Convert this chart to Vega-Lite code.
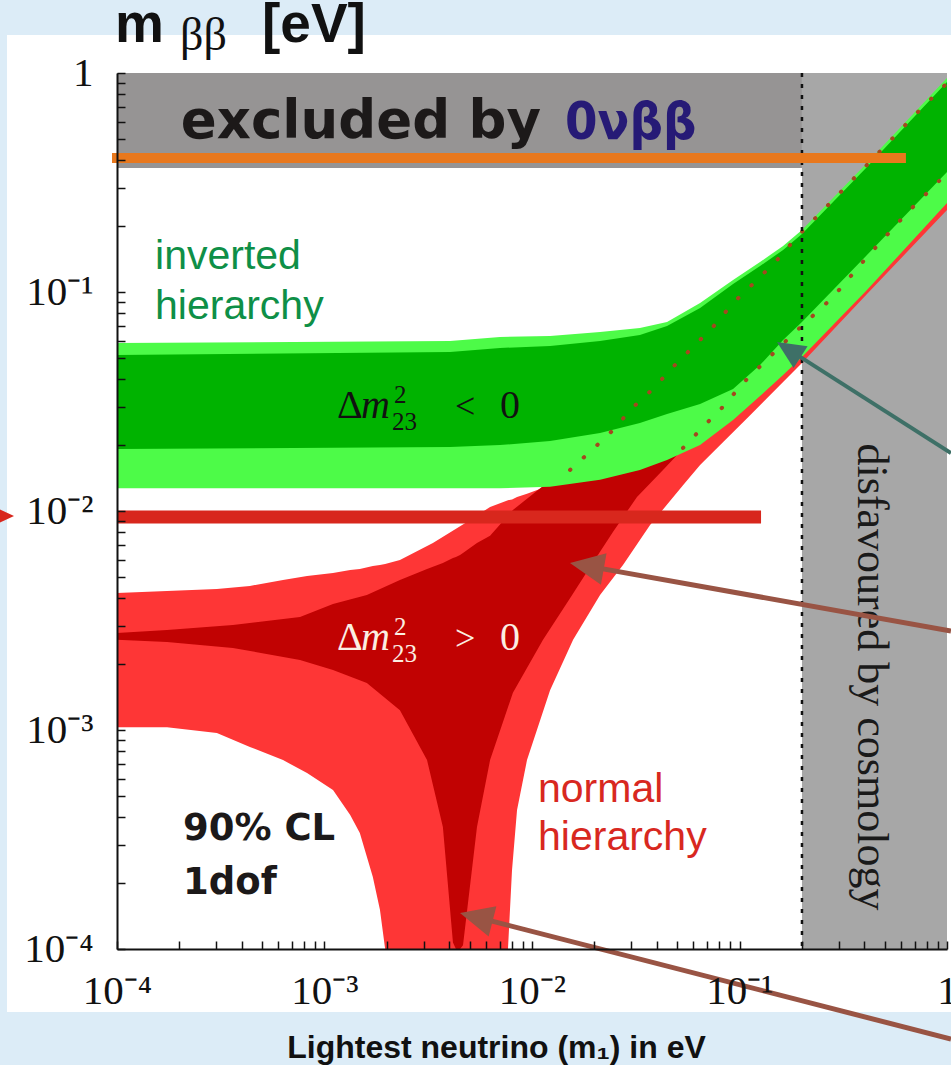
{
  "$schema": "https://vega.github.io/schema/vega-lite/v6.json",
  "width": 830,
  "height": 876,
  "autosize": {"type": "none"},
  "padding": {"left": 117, "top": 73, "right": 4, "bottom": 116},
  "background": "#dcecf7",
  "config": {"view": {"fill": "#ffffff", "stroke": "#1a1a1a", "strokeWidth": 1.5}},
  "datasets": {
    "regions": [
      {"name": "excluded", "m1a": 0.0001, "m1b": 0.2, "mbba": 0.368, "mbbb": 1},
      {"name": "cosmology", "m1a": 0.2, "m1b": 1, "mbba": 0.0001, "mbbb": 1}
    ],
    "bands": [
      {"band": "NH outer", "m1": 0.0001, "lo": 0.00103, "hi": 0.00422},
      {"band": "NH outer", "m1": 0.0001742, "lo": 0.00103, "hi": 0.00431},
      {"band": "NH outer", "m1": 0.000303, "lo": 0.000969, "hi": 0.0044},
      {"band": "NH outer", "m1": 0.000437, "lo": 0.000837, "hi": 0.00455},
      {"band": "NH outer", "m1": 0.000631, "lo": 0.000729, "hi": 0.00484},
      {"band": "NH outer", "m1": 0.000824, "lo": 0.000636, "hi": 0.00505},
      {"band": "NH outer", "m1": 0.001099, "lo": 0.000532, "hi": 0.00521},
      {"band": "NH outer", "m1": 0.00133, "lo": 0.000409, "hi": 0.00538},
      {"band": "NH outer", "m1": 0.00148, "lo": 0.000339, "hi": 0.00543},
      {"band": "NH outer", "m1": 0.00171, "lo": 0.000213, "hi": 0.00561},
      {"band": "NH outer", "m1": 0.00185, "lo": 0.000151, "hi": 0.00567},
      {"band": "NH outer", "m1": 0.00196, "lo": 0.0001, "hi": 0.00573},
      {"band": "NH outer", "m1": 0.00231, "lo": 0.0001, "hi": 0.00597},
      {"band": "NH outer", "m1": 0.00333, "lo": 0.0001, "hi": 0.00714},
      {"band": "NH outer", "m1": 0.00486, "lo": 0.0001, "hi": 0.00891},
      {"band": "NH outer", "m1": 0.00628, "lo": 0.0001, "hi": 0.01043},
      {"band": "NH outer", "m1": 0.00766, "lo": 0.0001, "hi": 0.0112},
      {"band": "NH outer", "m1": 0.00801, "lo": 0.000229, "hi": 0.0113},
      {"band": "NH outer", "m1": 0.00847, "lo": 0.000431, "hi": 0.0116},
      {"band": "NH outer", "m1": 0.00946, "lo": 0.000729, "hi": 0.012},
      {"band": "NH outer", "m1": 0.01222, "lo": 0.00152, "hi": 0.0131},
      {"band": "NH outer", "m1": 0.01578, "lo": 0.00258, "hi": 0.016},
      {"band": "NH outer", "m1": 0.02128, "lo": 0.00413, "hi": 0.0207},
      {"band": "NH outer", "m1": 0.02745, "lo": 0.00567, "hi": 0.026},
      {"band": "NH outer", "m1": 0.03707, "lo": 0.00863, "hi": 0.0353},
      {"band": "NH outer", "m1": 0.05343, "lo": 0.0131, "hi": 0.0505},
      {"band": "NH outer", "m1": 0.06457, "lo": 0.0162, "hi": 0.0604},
      {"band": "NH outer", "m1": 0.1125, "lo": 0.0274, "hi": 0.1054},
      {"band": "NH outer", "m1": 0.2, "lo": 0.0474, "hi": 0.1879},
      {"band": "NH outer", "m1": 0.4115, "lo": 0.0979, "hi": 0.3761},
      {"band": "NH outer", "m1": 1.0, "lo": 0.2368, "hi": 0.9097},
      {"band": "NH inner", "m1": 0.0001, "lo": 0.00258, "hi": 0.00277},
      {"band": "NH inner", "m1": 0.0001742, "lo": 0.00252, "hi": 0.00286},
      {"band": "NH inner", "m1": 0.000362, "lo": 0.00237, "hi": 0.00302},
      {"band": "NH inner", "m1": 0.000762, "lo": 0.00209, "hi": 0.00328},
      {"band": "NH inner", "m1": 0.001099, "lo": 0.00188, "hi": 0.00376},
      {"band": "NH inner", "m1": 0.0016, "lo": 0.00164, "hi": 0.00413},
      {"band": "NH inner", "m1": 0.00231, "lo": 0.00123, "hi": 0.00484},
      {"band": "NH inner", "m1": 0.00312, "lo": 0.000729, "hi": 0.00543},
      {"band": "NH inner", "m1": 0.00372, "lo": 0.000361, "hi": 0.00579},
      {"band": "NH inner", "m1": 0.00416, "lo": 0.000107, "hi": 0.0061},
      {"band": "NH inner", "m1": 0.0043, "lo": 0.0001, "hi": 0.00617},
      {"band": "NH inner", "m1": 0.0045, "lo": 0.0001, "hi": 0.0063},
      {"band": "NH inner", "m1": 0.00465, "lo": 0.000104, "hi": 0.00643},
      {"band": "NH inner", "m1": 0.00543, "lo": 0.000361, "hi": 0.00714},
      {"band": "NH inner", "m1": 0.00628, "lo": 0.000729, "hi": 0.0077},
      {"band": "NH inner", "m1": 0.00809, "lo": 0.00148, "hi": 0.01011},
      {"band": "NH inner", "m1": 0.0113, "lo": 0.00258, "hi": 0.013},
      {"band": "NH inner", "m1": 0.01525, "lo": 0.004, "hi": 0.0151},
      {"band": "NH inner", "m1": 0.01905, "lo": 0.00555, "hi": 0.0182},
      {"band": "NH inner", "m1": 0.02455, "lo": 0.00802, "hi": 0.0229},
      {"band": "NH inner", "m1": 0.03206, "lo": 0.0116, "hi": 0.0302},
      {"band": "NH inner", "m1": 0.04279, "lo": 0.0154, "hi": 0.0405},
      {"band": "NH inner", "m1": 0.05166, "lo": 0.0186, "hi": 0.0489},
      {"band": "NH inner", "m1": 0.06457, "lo": 0.0211, "hi": 0.0604},
      {"band": "NH inner", "m1": 0.1125, "lo": 0.0321, "hi": 0.1054},
      {"band": "NH inner", "m1": 0.2, "lo": 0.0532, "hi": 0.1879},
      {"band": "NH inner", "m1": 0.4115, "lo": 0.1134, "hi": 0.3761},
      {"band": "NH inner", "m1": 1.0, "lo": 0.2687, "hi": 0.891},
      {"band": "IH outer", "m1": 0.0001, "lo": 0.0127, "hi": 0.0585},
      {"band": "IH outer", "m1": 0.00403, "lo": 0.0127, "hi": 0.0597},
      {"band": "IH outer", "m1": 0.00701, "lo": 0.0127, "hi": 0.0623},
      {"band": "IH outer", "m1": 0.01222, "lo": 0.0129, "hi": 0.063},
      {"band": "IH outer", "m1": 0.02128, "lo": 0.0139, "hi": 0.0657},
      {"band": "IH outer", "m1": 0.03311, "lo": 0.0154, "hi": 0.0685},
      {"band": "IH outer", "m1": 0.04475, "lo": 0.0171, "hi": 0.0729},
      {"band": "IH outer", "m1": 0.06457, "lo": 0.02, "hi": 0.0891},
      {"band": "IH outer", "m1": 0.09311, "lo": 0.026, "hi": 0.1134},
      {"band": "IH outer", "m1": 0.1256, "lo": 0.0335, "hi": 0.1371},
      {"band": "IH outer", "m1": 0.1622, "lo": 0.0418, "hi": 0.1622},
      {"band": "IH outer", "m1": 0.2, "lo": 0.0505, "hi": 0.1919},
      {"band": "IH outer", "m1": 0.4115, "lo": 0.1021, "hi": 0.388},
      {"band": "IH outer", "m1": 1.0, "lo": 0.2549, "hi": 0.949},
      {"band": "IH inner", "m1": 0.0001, "lo": 0.0192, "hi": 0.0516},
      {"band": "IH inner", "m1": 0.00403, "lo": 0.0196, "hi": 0.0532},
      {"band": "IH inner", "m1": 0.00701, "lo": 0.02, "hi": 0.0555},
      {"band": "IH inner", "m1": 0.01222, "lo": 0.0209, "hi": 0.0567},
      {"band": "IH inner", "m1": 0.02128, "lo": 0.0227, "hi": 0.0597},
      {"band": "IH inner", "m1": 0.03311, "lo": 0.0252, "hi": 0.0637},
      {"band": "IH inner", "m1": 0.04475, "lo": 0.0277, "hi": 0.0699},
      {"band": "IH inner", "m1": 0.06457, "lo": 0.0308, "hi": 0.0845},
      {"band": "IH inner", "m1": 0.09311, "lo": 0.0361, "hi": 0.1087},
      {"band": "IH inner", "m1": 0.1256, "lo": 0.0464, "hi": 0.1314},
      {"band": "IH inner", "m1": 0.1622, "lo": 0.0604, "hi": 0.1555},
      {"band": "IH inner", "m1": 0.2, "lo": 0.0729, "hi": 0.184},
      {"band": "IH inner", "m1": 0.4115, "lo": 0.1476, "hi": 0.3722},
      {"band": "IH inner", "m1": 1.0, "lo": 0.3532, "hi": 0.9097}
    ],
    "edges": [
      {"edge": "upper", "m1": 0.01525, "mbb": 0.0154},
      {"edge": "upper", "m1": 0.01946, "mbb": 0.019},
      {"edge": "upper", "m1": 0.02455, "mbb": 0.0234},
      {"edge": "upper", "m1": 0.03035, "mbb": 0.0295},
      {"edge": "upper", "m1": 0.03828, "mbb": 0.0361},
      {"edge": "upper", "m1": 0.04786, "mbb": 0.0455},
      {"edge": "upper", "m1": 0.05971, "mbb": 0.0561},
      {"edge": "upper", "m1": 0.07447, "mbb": 0.0692},
      {"edge": "upper", "m1": 0.09311, "mbb": 0.0891},
      {"edge": "upper", "m1": 0.1214, "mbb": 0.1134},
      {"edge": "upper", "m1": 0.1517, "mbb": 0.14},
      {"edge": "upper", "m1": 0.1892, "mbb": 0.1783},
      {"edge": "upper", "m1": 0.2825, "mbb": 0.263},
      {"edge": "upper", "m1": 0.7163, "mbb": 0.6568},
      {"edge": "upper", "m1": 1.0, "mbb": 0.9},
      {"edge": "lower", "m1": 0.05343, "mbb": 0.0194},
      {"edge": "lower", "m1": 0.06668, "mbb": 0.0242},
      {"edge": "lower", "m1": 0.08318, "mbb": 0.0299},
      {"edge": "lower", "m1": 0.104, "mbb": 0.0384},
      {"edge": "lower", "m1": 0.175, "mbb": 0.0623},
      {"edge": "lower", "m1": 0.2825, "mbb": 0.0949},
      {"edge": "lower", "m1": 0.4115, "mbb": 0.1445},
      {"edge": "lower", "m1": 0.6412, "mbb": 0.2295},
      {"edge": "lower", "m1": 0.9568, "mbb": 0.335}
    ],
    "cuts": [{"m1": 0.2}],
    "bounds": [
      {"name": "current", "m1a": 0.0000946, "m1b": 0.634, "mbb": 0.409},
      {"name": "future", "m1a": 0.0001, "m1b": 0.127, "mbb": 0.00939}
    ],
    "notes": [
      {"key": "title_m", "text": "m", "m1": 0.0001, "mbb": 1.385},
      {"key": "title_bb", "text": "ββ", "m1": 0.0001, "mbb": 1.385},
      {"key": "title_ev", "text": "[eV]", "m1": 0.0001, "mbb": 1.385},
      {"key": "excluded", "text": "excluded by", "m1": 0.000203, "mbb": 0.505},
      {"key": "nu", "text": "0νββ", "m1": 0.01442, "mbb": 0.5},
      {"key": "ih", "text": "inverted\nhierarchy", "m1": 0.0001525, "mbb": 0.1273},
      {"key": "nh", "text": "normal\nhierarchy", "m1": 0.01069, "mbb": 0.000469},
      {"key": "cl", "text": "90% CL\n1dof", "m1": 0.000208, "mbb": 0.000315},
      {"key": "cosmo", "text": "disfavoured by cosmology", "m1": 0.43, "mbb": 0.001746}
    ],
    "deltas": [
      {"rel": "<", "m1": 0.001148, "mbb": 0.0266},
      {"rel": ">", "m1": 0.001148, "mbb": 0.00232}
    ],
    "arrows": [
      {"name": "ih_edge", "m1a": 1.045, "mbba": 0.0184, "m1b": 0.1743, "mbbb": 0.05428, "tipm1": 0.1516, "tipmbb": 0.05909},
      {"name": "nh_band", "m1a": 1.045, "mbba": 0.002832, "m1b": 0.01797, "mbbb": 0.005631, "tipm1": 0.01524, "tipmbb": 0.005788},
      {"name": "nh_cancel", "m1a": 1.045, "mbba": 0.0000388, "m1b": 0.005283, "mbbb": 0.0001405, "tipm1": 0.004498, "tipmbb": 0.0001461},
      {"name": "limit_tick", "tipm1": 0.0000319, "tipmbb": 0.00948}
    ]
  },
  "layer": [
    {
      "data": {"values": [{}]},
      "mark": {"type": "rect", "fill": "#ffffff"},
      "encoding": {
        "x": {"datum": 0.0000295, "type": "quantitative"},
        "x2": {"datum": 1.3},
        "y": {"datum": 0.0000515, "type": "quantitative"},
        "y2": {"datum": 1.49}
      }
    },
    {
      "data": {"name": "regions"},
      "mark": {"type": "rect"},
      "encoding": {
        "x": {
          "field": "m1a", "type": "quantitative",
          "scale": {"type": "log", "domain": [0.0001, 1], "nice": false},
          "axis": {
            "values": [0.0001,0.0002,0.0003,0.0004,0.0005,0.0006,0.0007,0.0008,0.0009,0.001,0.002,0.003,0.004,0.005,0.006,0.007,0.008,0.009,0.01,0.02,0.03,0.04,0.05,0.06,0.07,0.08,0.09,0.1,0.2,0.3,0.4,0.5,0.6,0.7,0.8,0.9,1],
            "labelExpr": "datum.value > 0.99 ? '1' : (abs(log(datum.value) / LN10 - round(log(datum.value) / LN10)) < 0.001 ? '10' + replace(replace(replace(replace(replace('' + round(log(datum.value) / LN10), '-', '⁻'), '1', '¹'), '2', '²'), '3', '³'), '4', '⁴') : '')",
            "labelFont": "Liberation Serif",
            "labelFontSize": 41,
            "labelColor": "#111111",
            "labelPadding": 30,
            "labelOverlap": false,
            "labelFlush": false,
            "labelBound": false,
            "tickSize": -8,
            "tickColor": "#111111",
            "tickWidth": 1.5,
            "domainColor": "#111111",
            "domainWidth": 2,
            "grid": false,
            "title": "Lightest neutrino (m₁) in eV",
            "titleFont": "Liberation Sans",
            "titleFontSize": 32,
            "titleFontWeight": "bold",
            "titleColor": "#111111",
            "titleX": 379,
            "titleY": 108,
            "titleAlign": "center",
            "titleBaseline": "alphabetic",
            "zindex": 1
          }
        },
        "x2": {"field": "m1b"},
        "y": {
          "field": "mbba", "type": "quantitative",
          "scale": {"type": "log", "domain": [0.0001, 1], "nice": false},
          "axis": {
            "values": [0.0001,0.0002,0.0003,0.0004,0.0005,0.0006,0.0007,0.0008,0.0009,0.001,0.002,0.003,0.004,0.005,0.006,0.007,0.008,0.009,0.01,0.02,0.03,0.04,0.05,0.06,0.07,0.08,0.09,0.1,0.2,0.3,0.4,0.5,0.6,0.7,0.8,0.9,1],
            "labelExpr": "datum.value > 0.99 ? '1' : (abs(log(datum.value) / LN10 - round(log(datum.value) / LN10)) < 0.001 ? '10' + replace(replace(replace(replace(replace('' + round(log(datum.value) / LN10), '-', '⁻'), '1', '¹'), '2', '²'), '3', '³'), '4', '⁴') : '')",
            "labelFont": "Liberation Serif",
            "labelFontSize": 41,
            "labelColor": "#111111",
            "labelPadding": 32,
            "labelOverlap": false,
            "labelFlush": false,
            "labelBound": false,
            "tickSize": -8,
            "tickColor": "#111111",
            "tickWidth": 1.5,
            "domainColor": "#111111",
            "domainWidth": 2,
            "grid": false,
            "title": null,
            "zindex": 1
          }
        },
        "y2": {"field": "mbbb"},
        "color": {"condition": {"test": "datum.name == 'cosmology'", "value": "#a7a7a7"}, "value": "#969494"}
      }
    },
    {
      "data": {"name": "bands"},
      "transform": [{"filter": "datum.band == 'NH outer'"}],
      "mark": {"type": "area", "color": "#fe3636", "orient": "vertical", "interpolate": "linear"},
      "encoding": {
        "x": {"field": "m1", "type": "quantitative"},
        "y": {"field": "lo", "type": "quantitative", "stack": null},
        "y2": {"field": "hi"}
      }
    },
    {
      "data": {"name": "bands"},
      "transform": [{"filter": "datum.band == 'NH inner'"}],
      "mark": {"type": "area", "color": "#c10202", "orient": "vertical", "interpolate": "linear"},
      "encoding": {
        "x": {"field": "m1", "type": "quantitative"},
        "y": {"field": "lo", "type": "quantitative", "stack": null},
        "y2": {"field": "hi"}
      }
    },
    {
      "data": {"name": "bands"},
      "transform": [{"filter": "datum.band == 'IH outer'"}],
      "mark": {"type": "area", "color": "#4dfb48", "orient": "vertical", "interpolate": "linear"},
      "encoding": {
        "x": {"field": "m1", "type": "quantitative"},
        "y": {"field": "lo", "type": "quantitative", "stack": null},
        "y2": {"field": "hi"}
      }
    },
    {
      "data": {"name": "bands"},
      "transform": [{"filter": "datum.band == 'IH inner'"}],
      "mark": {"type": "area", "color": "#00b300", "orient": "vertical", "interpolate": "linear"},
      "encoding": {
        "x": {"field": "m1", "type": "quantitative"},
        "y": {"field": "lo", "type": "quantitative", "stack": null},
        "y2": {"field": "hi"}
      }
    },
    {
      "data": {"name": "edges"},
      "mark": {"type": "line", "color": "#a3481f", "strokeWidth": 4, "strokeDash": [0.5, 18], "strokeCap": "round"},
      "encoding": {
        "x": {"field": "m1", "type": "quantitative"},
        "y": {"field": "mbb", "type": "quantitative"},
        "detail": {"field": "edge"}
      }
    },
    {
      "data": {"name": "cuts"},
      "mark": {"type": "rule", "color": "#111111", "strokeWidth": 2.5, "strokeDash": [4, 7]},
      "encoding": {"x": {"field": "m1", "type": "quantitative"}}
    },
    {
      "data": {"name": "bounds"},
      "mark": {"type": "rule", "strokeCap": "butt"},
      "encoding": {
        "x": {"field": "m1a", "type": "quantitative"},
        "x2": {"field": "m1b"},
        "y": {"field": "mbb", "type": "quantitative"},
        "color": {"condition": {"test": "datum.name == 'current'", "value": "#e8781d"}, "value": "#d8271d"},
        "strokeWidth": {"condition": {"test": "datum.name == 'current'", "value": 10}, "value": 13}
      }
    },
    {
      "data": {"name": "notes"},
      "transform": [{"filter": "datum.key == 'title_m'"}],
      "mark": {"type": "text", "font": "Liberation Sans", "fontWeight": "bold", "fontSize": 55, "color": "#111111", "align": "left", "baseline": "alphabetic", "dx": -2},
      "encoding": {"x": {"field": "m1", "type": "quantitative"}, "y": {"field": "mbb", "type": "quantitative"}, "text": {"field": "text"}}
    },
    {
      "data": {"name": "notes"},
      "transform": [{"filter": "datum.key == 'title_bb'"}],
      "mark": {"type": "text", "font": "Liberation Serif", "fontSize": 46, "color": "#111111", "align": "left", "baseline": "alphabetic", "dx": 63, "dy": 8},
      "encoding": {"x": {"field": "m1", "type": "quantitative"}, "y": {"field": "mbb", "type": "quantitative"}, "text": {"field": "text"}}
    },
    {
      "data": {"name": "notes"},
      "transform": [{"filter": "datum.key == 'title_ev'"}],
      "mark": {"type": "text", "font": "Liberation Sans", "fontWeight": "bold", "fontSize": 55, "color": "#111111", "align": "left", "baseline": "alphabetic", "dx": 145},
      "encoding": {"x": {"field": "m1", "type": "quantitative"}, "y": {"field": "mbb", "type": "quantitative"}, "text": {"field": "text"}}
    },
    {
      "data": {"name": "notes"},
      "transform": [{"filter": "datum.key == 'excluded'"}],
      "mark": {"type": "text", "font": "DejaVu Sans", "fontWeight": "bold", "fontSize": 53, "color": "#1c1919", "align": "left", "baseline": "alphabetic"},
      "encoding": {"x": {"field": "m1", "type": "quantitative"}, "y": {"field": "mbb", "type": "quantitative"}, "text": {"field": "text"}}
    },
    {
      "data": {"name": "notes"},
      "transform": [{"filter": "datum.key == 'nu'"}],
      "mark": {"type": "text", "font": "DejaVu Sans Condensed", "fontWeight": "bold", "fontSize": 52, "color": "#261a76", "align": "left", "baseline": "alphabetic"},
      "encoding": {"x": {"field": "m1", "type": "quantitative"}, "y": {"field": "mbb", "type": "quantitative"}, "text": {"field": "text"}}
    },
    {
      "data": {"name": "notes"},
      "transform": [{"filter": "datum.key == 'ih'"}],
      "mark": {"type": "text", "font": "Liberation Sans", "fontSize": 41, "color": "#0e8f47", "align": "left", "baseline": "alphabetic", "lineBreak": "\n", "lineHeight": 50},
      "encoding": {"x": {"field": "m1", "type": "quantitative"}, "y": {"field": "mbb", "type": "quantitative"}, "text": {"field": "text"}}
    },
    {
      "data": {"name": "notes"},
      "transform": [{"filter": "datum.key == 'nh'"}],
      "mark": {"type": "text", "font": "Liberation Sans", "fontSize": 41, "color": "#d8281f", "align": "left", "baseline": "alphabetic", "lineBreak": "\n", "lineHeight": 48},
      "encoding": {"x": {"field": "m1", "type": "quantitative"}, "y": {"field": "mbb", "type": "quantitative"}, "text": {"field": "text"}}
    },
    {
      "data": {"name": "notes"},
      "transform": [{"filter": "datum.key == 'cl'"}],
      "mark": {"type": "text", "font": "DejaVu Sans", "fontWeight": "bold", "fontSize": 37, "color": "#1c1919", "align": "left", "baseline": "alphabetic", "lineBreak": "\n", "lineHeight": 54},
      "encoding": {"x": {"field": "m1", "type": "quantitative"}, "y": {"field": "mbb", "type": "quantitative"}, "text": {"field": "text"}}
    },
    {
      "data": {"name": "notes"},
      "transform": [{"filter": "datum.key == 'cosmo'"}],
      "mark": {"type": "text", "font": "Liberation Serif", "fontSize": 44, "color": "#1a1a1a", "align": "center", "baseline": "middle", "angle": 90},
      "encoding": {"x": {"field": "m1", "type": "quantitative"}, "y": {"field": "mbb", "type": "quantitative"}, "text": {"field": "text"}}
    },
    {
      "data": {"name": "deltas"},
      "mark": {"type": "text", "text": "Δ", "font": "Liberation Serif", "fontSize": 40, "align": "left", "baseline": "alphabetic"},
      "encoding": {"x": {"field": "m1", "type": "quantitative"}, "y": {"field": "mbb", "type": "quantitative"}, "color": {"condition": {"test": "datum.rel == '>'", "value": "#fbeee2"}, "value": "#111111"}}
    },
    {
      "data": {"name": "deltas"},
      "mark": {"type": "text", "text": "m", "font": "Liberation Serif", "fontStyle": "italic", "fontSize": 40, "align": "left", "baseline": "alphabetic", "dx": 24},
      "encoding": {"x": {"field": "m1", "type": "quantitative"}, "y": {"field": "mbb", "type": "quantitative"}, "color": {"condition": {"test": "datum.rel == '>'", "value": "#fbeee2"}, "value": "#111111"}}
    },
    {
      "data": {"name": "deltas"},
      "mark": {"type": "text", "text": "2", "font": "Liberation Serif", "fontSize": 25, "align": "left", "baseline": "alphabetic", "dx": 57, "dy": -15},
      "encoding": {"x": {"field": "m1", "type": "quantitative"}, "y": {"field": "mbb", "type": "quantitative"}, "color": {"condition": {"test": "datum.rel == '>'", "value": "#fbeee2"}, "value": "#111111"}}
    },
    {
      "data": {"name": "deltas"},
      "mark": {"type": "text", "text": "23", "font": "Liberation Serif", "fontSize": 25, "align": "left", "baseline": "alphabetic", "dx": 55, "dy": 12},
      "encoding": {"x": {"field": "m1", "type": "quantitative"}, "y": {"field": "mbb", "type": "quantitative"}, "color": {"condition": {"test": "datum.rel == '>'", "value": "#fbeee2"}, "value": "#111111"}}
    },
    {
      "data": {"name": "deltas"},
      "mark": {"type": "text", "font": "Liberation Serif", "fontSize": 36, "align": "left", "baseline": "alphabetic", "dx": 118},
      "encoding": {"x": {"field": "m1", "type": "quantitative"}, "y": {"field": "mbb", "type": "quantitative"}, "text": {"field": "rel"}, "color": {"condition": {"test": "datum.rel == '>'", "value": "#fbeee2"}, "value": "#111111"}}
    },
    {
      "data": {"name": "deltas"},
      "mark": {"type": "text", "text": "0", "font": "Liberation Serif", "fontSize": 40, "align": "left", "baseline": "alphabetic", "dx": 163},
      "encoding": {"x": {"field": "m1", "type": "quantitative"}, "y": {"field": "mbb", "type": "quantitative"}, "color": {"condition": {"test": "datum.rel == '>'", "value": "#fbeee2"}, "value": "#111111"}}
    },
    {
      "data": {"name": "arrows"},
      "transform": [{"filter": "isValid(datum.m1a)"}],
      "mark": {"type": "rule", "strokeCap": "butt"},
      "encoding": {
        "x": {"field": "m1a", "type": "quantitative"},
        "y": {"field": "mbba", "type": "quantitative"},
        "x2": {"field": "m1b"},
        "y2": {"field": "mbbb"},
        "color": {"condition": {"test": "datum.name == 'ih_edge'", "value": "#3e7067"}, "value": "#995444"},
        "strokeWidth": {"condition": {"test": "datum.name == 'ih_edge'", "value": 4}, "value": 5}
      }
    },
    {
      "data": {"name": "arrows"},
      "transform": [{"filter": "datum.name == 'ih_edge'"}],
      "mark": {"type": "point", "shape": "M0,0L-0.65,1.4L0.65,1.4Z", "filled": true, "opacity": 1, "size": 1600, "angle": 302.6, "color": "#3e7067", "strokeWidth": 0},
      "encoding": {"x": {"field": "tipm1", "type": "quantitative"}, "y": {"field": "tipmbb", "type": "quantitative"}}
    },
    {
      "data": {"name": "arrows"},
      "transform": [{"filter": "datum.name == 'nh_band'"}],
      "mark": {"type": "point", "shape": "M0,0L-0.65,1.4L0.65,1.4Z", "filled": true, "opacity": 1, "size": 2400, "angle": 280.1, "color": "#995444", "strokeWidth": 0},
      "encoding": {"x": {"field": "tipm1", "type": "quantitative"}, "y": {"field": "tipmbb", "type": "quantitative"}}
    },
    {
      "data": {"name": "arrows"},
      "transform": [{"filter": "datum.name == 'nh_cancel'"}],
      "mark": {"type": "point", "shape": "M0,0L-0.65,1.4L0.65,1.4Z", "filled": true, "opacity": 1, "size": 2300, "angle": 284.4, "color": "#995444", "strokeWidth": 0},
      "encoding": {"x": {"field": "tipm1", "type": "quantitative"}, "y": {"field": "tipmbb", "type": "quantitative"}}
    },
    {
      "data": {"name": "arrows"},
      "transform": [{"filter": "datum.name == 'limit_tick'"}],
      "mark": {"type": "point", "shape": "M0,0L-0.65,1.4L0.65,1.4Z", "filled": true, "opacity": 1, "size": 1100, "angle": 90, "color": "#d8271d", "strokeWidth": 0},
      "encoding": {"x": {"field": "tipm1", "type": "quantitative"}, "y": {"field": "tipmbb", "type": "quantitative"}}
    }
  ]
}
